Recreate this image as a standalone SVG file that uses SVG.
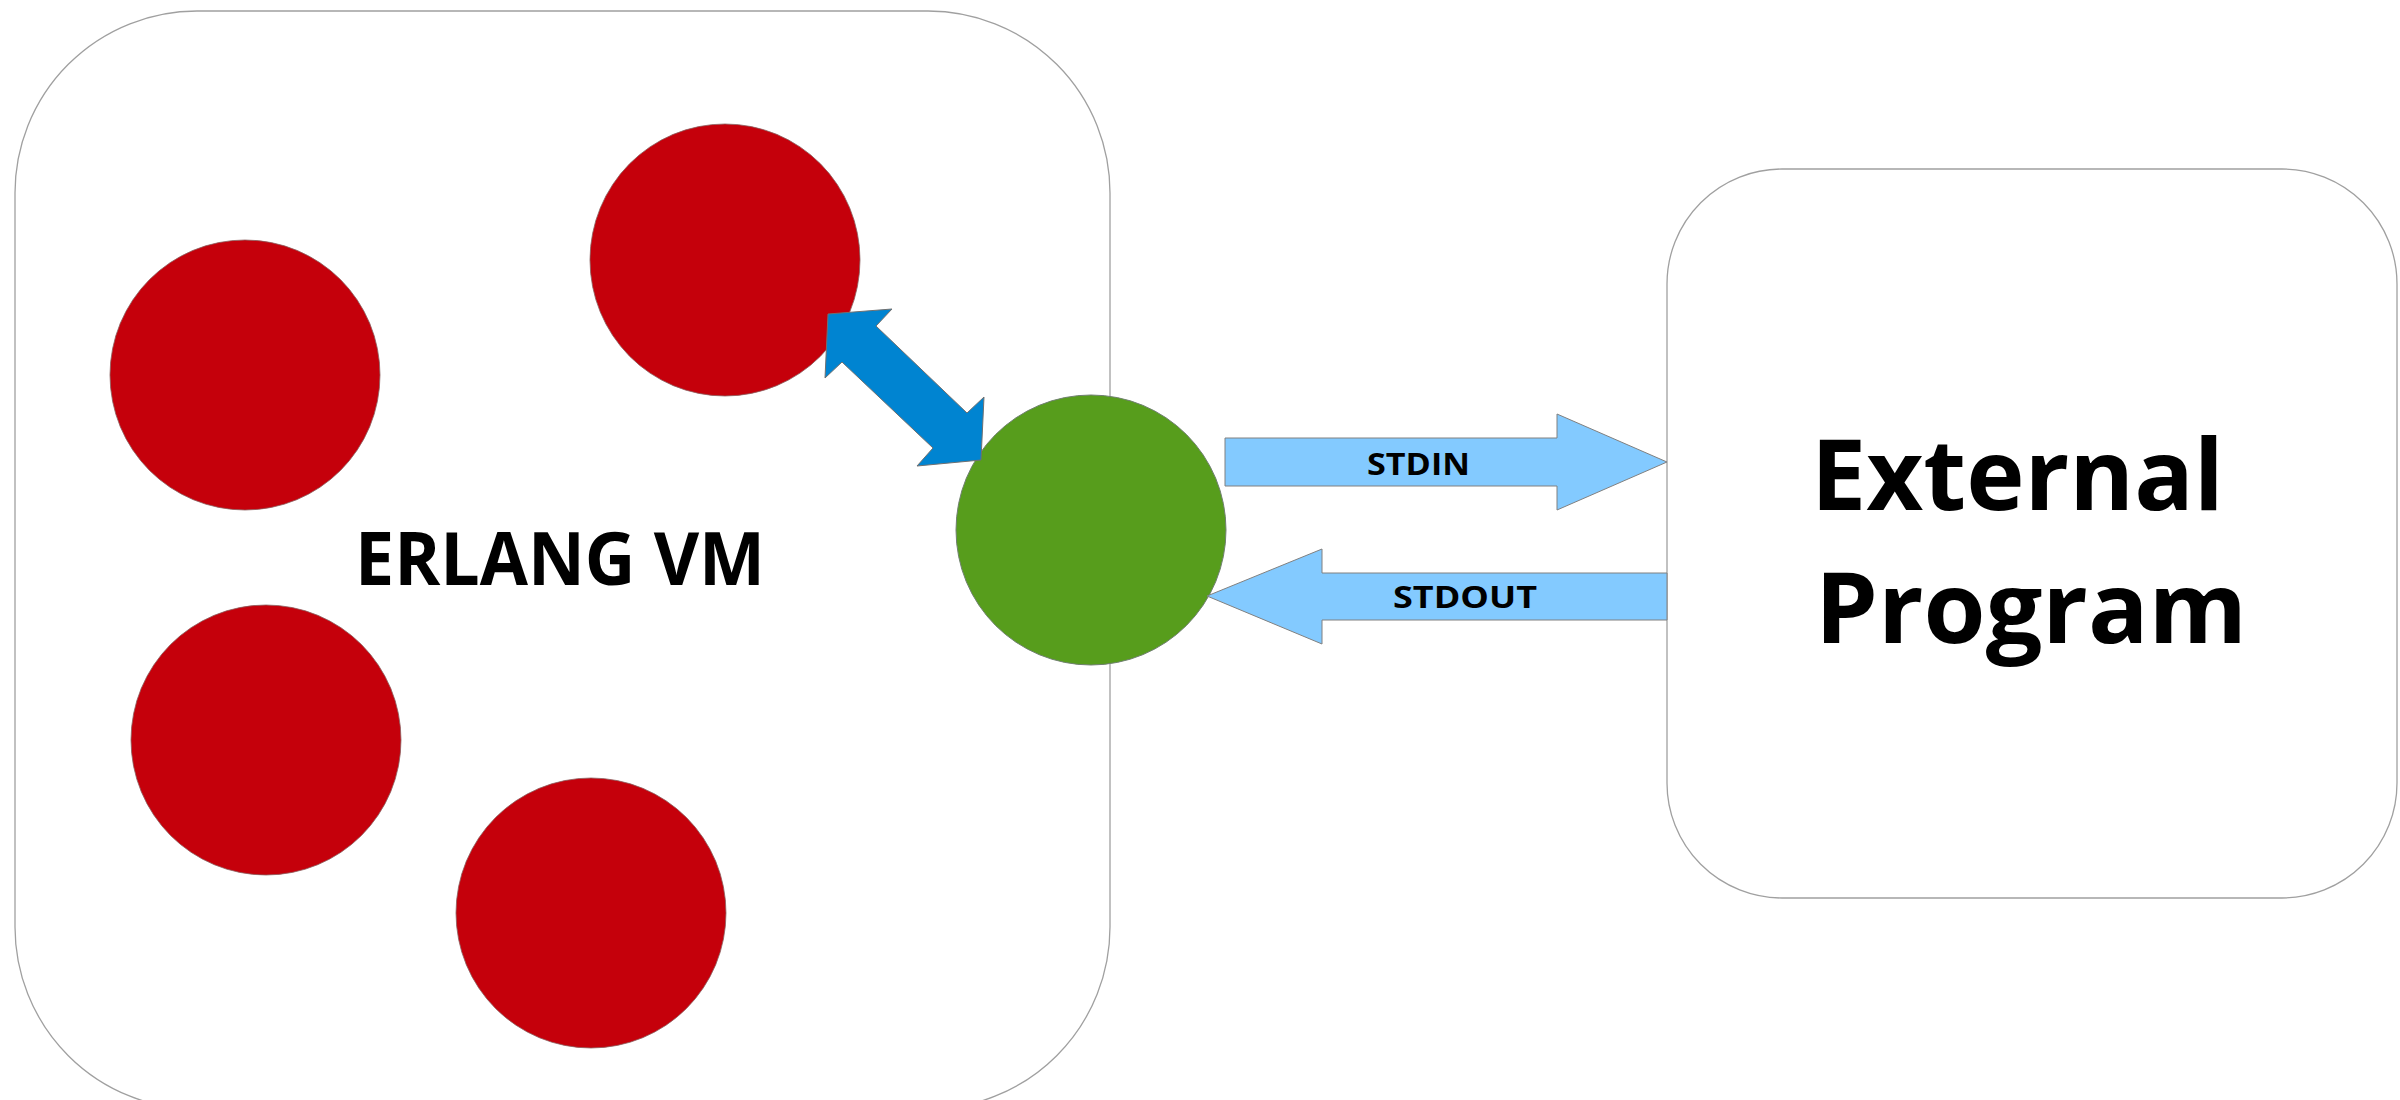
<svg xmlns="http://www.w3.org/2000/svg" width="2400" height="1100" viewBox="0 0 2400 1100">
<style>
.box{fill:#ffffff;stroke:#a0a0a0;stroke-width:1.3}
.proc{fill:#c5000b;stroke:#8a6060;stroke-width:0.8}
.port{fill:#579d1c;stroke:#708070;stroke-width:1}
.link{fill:#0084d1;stroke:#707070;stroke-width:1}
.pipe{fill:#83caff;stroke:#808080;stroke-width:1}
.lbl{font-family:"Open Sans","Liberation Sans",sans-serif;font-weight:700;fill:#000000}
</style>
<rect width="2400" height="1100" fill="#ffffff"/>
<g id="erlang-vm">
<rect class="box" x="15" y="11" width="1095" height="1098" rx="182" ry="182"/>
<text class="lbl" x="355" y="585" font-size="73" textLength="410" lengthAdjust="spacingAndGlyphs">ERLANG VM</text>
</g>
<g id="process-1"><ellipse class="proc" cx="245" cy="375" rx="135" ry="135"/></g>
<g id="process-2"><ellipse class="proc" cx="725" cy="260" rx="135" ry="136"/></g>
<g id="process-3"><ellipse class="proc" cx="266" cy="740" rx="135" ry="135"/></g>
<g id="process-4"><ellipse class="proc" cx="591" cy="913" rx="135" ry="135"/></g>
<g id="port"><ellipse class="port" cx="1091" cy="530" rx="135" ry="135"/></g>
<g id="external-program">
<rect class="box" x="1667" y="169" width="730" height="729" rx="115" ry="115"/>
<text class="lbl" x="1811" y="510" font-size="99" textLength="413" lengthAdjust="spacingAndGlyphs">External</text>
<text class="lbl" x="1815" y="643" font-size="99" textLength="432" lengthAdjust="spacingAndGlyphs">Program</text>
</g>
<g id="connectors">
<polygon class="link" points="828,314 892,309 876,326 967,413 984,397 981,460 917,466 933,448 842,362 825,378"/>
<g id="stdin">
<polygon class="pipe" points="1225,438 1557,438 1557,414 1667,462 1557,510 1557,486 1225,486"/>
<text class="lbl" x="1367" y="475" font-size="30" textLength="103" lengthAdjust="spacingAndGlyphs">STDIN</text>
</g>
<g id="stdout">
<polygon class="pipe" points="1207,596 1322,549 1322,573 1667,573 1667,620 1322,620 1322,644"/>
<text class="lbl" x="1393" y="608" font-size="30" textLength="144" lengthAdjust="spacingAndGlyphs">STDOUT</text>
</g>
</g>
</svg>
